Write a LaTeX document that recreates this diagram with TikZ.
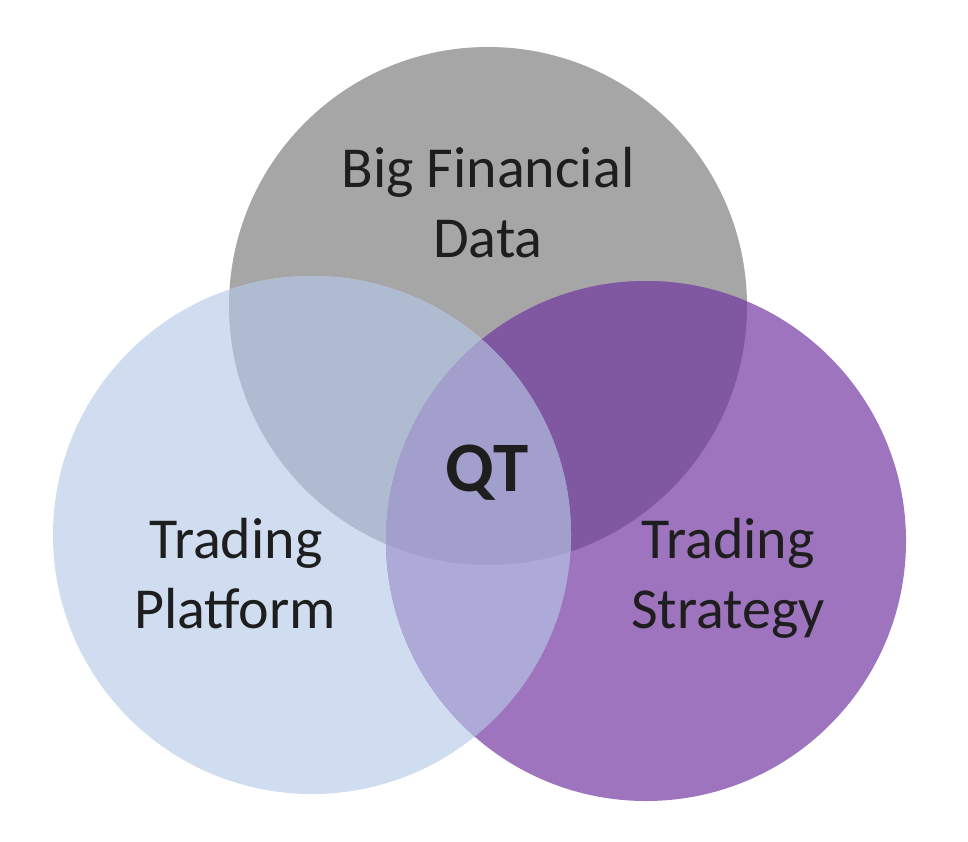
\documentclass[tikz,border=0pt]{standalone}
\usepackage{fontspec}
\setmainfont{Carlito}
\definecolor{cgray}{HTML}{A6A6A6}
\definecolor{cblue}{HTML}{D0DDF0}
\definecolor{cpurple}{HTML}{9E74BE}
\definecolor{cgb}{HTML}{AFBBD0}
\definecolor{cgp}{HTML}{8057A1}
\definecolor{cbp}{HTML}{AEAAD8}
\definecolor{call}{HTML}{A39FCD}
\definecolor{ctext}{HTML}{1E1E1E}
\tikzset{
  lbl/.style={anchor=base, inner sep=0pt, text=ctext, font=\fontsize{58}{70}\selectfont},
  qtlbl/.style={anchor=base, inner sep=0pt, text=ctext, font=\fontsize{71}{84}\selectfont\bfseries}
}
\begin{document}
\begin{tikzpicture}[x=1pt,y=-1pt]
\useasboundingbox (0,0) rectangle (968,842);
\def\cG{(488,306) circle (259)}
\def\cB{(312,535) circle (259)}
\def\cP{(646,541) circle (260)}
\coordinate (g) at (488,306);
\coordinate (b) at (312,535);
\coordinate (p) at (646,541);
\fill[cgray] \cG;
\fill[cblue] \cB;
\fill[cpurple] \cP;
\begin{scope}
  \clip \cG;
  \fill[cgb] \cB;
  \fill[cgp] \cP;
\end{scope}
\begin{scope}
  \clip \cB;
  \fill[cbp] \cP;
\end{scope}
\begin{scope}
  \clip \cG;
  \clip \cB;
  \fill[call] \cP;
\end{scope}
\node[lbl] (big1) at (488,188) {Big Financial};
\node[lbl] (big2) at (488,258) {Data};
\node[qtlbl] (qt) at (487,491) {QT};
\node[lbl] (tp1) at (236,558) {Trading};
\node[lbl] (tp2) at (235,628) {Platform};
\node[lbl] (ts1) at (728,558) {Trading};
\node[lbl] (ts2) at (728,628) {Strategy};
\end{tikzpicture}
\end{document}
